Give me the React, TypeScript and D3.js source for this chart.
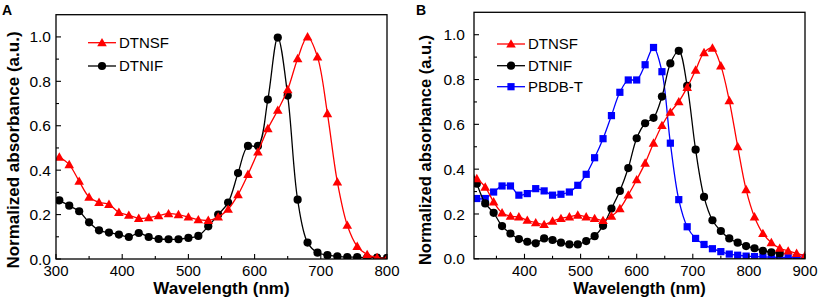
import React from "react";
import * as d3 from "d3";

// ---------- Data ----------
const wlA = [305, 320, 335, 350, 365, 380, 395, 410, 425, 440, 455, 470, 485, 500, 515, 530, 545, 560, 575, 590, 605, 620, 635, 650, 665, 680, 695, 710, 725, 740, 755, 770, 785, 800];
const dtnsfA = [0.459, 0.425, 0.35, 0.279, 0.255, 0.246, 0.21, 0.197, 0.183, 0.186, 0.195, 0.204, 0.2, 0.189, 0.177, 0.174, 0.189, 0.224, 0.29, 0.381, 0.482, 0.587, 0.67, 0.763, 0.902, 1.0, 0.91, 0.655, 0.347, 0.152, 0.057, 0.02, 0.006, 0.002];
const dtnifA = [0.264, 0.24, 0.215, 0.165, 0.129, 0.119, 0.11, 0.099, 0.117, 0.099, 0.09, 0.089, 0.089, 0.095, 0.104, 0.147, 0.2, 0.254, 0.387, 0.509, 0.509, 0.718, 0.997, 0.736, 0.267, 0.074, 0.029, 0.017, 0.012, 0.009, 0.008, 0.006, 0.006, 0.005];

const wlB = [315, 330, 345, 360, 375, 390, 405, 420, 435, 450, 465, 480, 495, 510, 525, 540, 555, 570, 585, 600, 615, 630, 645, 660, 675, 690, 705, 720, 735, 750, 765, 780, 795, 810, 825, 840, 855, 870, 885, 900];
const dtnsfB = [0.358, 0.32, 0.254, 0.205, 0.19, 0.187, 0.172, 0.161, 0.153, 0.168, 0.18, 0.187, 0.195, 0.187, 0.18, 0.171, 0.19, 0.224, 0.285, 0.353, 0.427, 0.516, 0.595, 0.654, 0.701, 0.765, 0.842, 0.92, 0.94, 0.861, 0.706, 0.501, 0.309, 0.187, 0.113, 0.072, 0.047, 0.035, 0.024, 0.014];
const wlBnif = [300, 315, 330, 345, 360, 375, 390, 405, 420, 435, 450, 465, 480, 495, 510, 525, 540, 555, 570, 585, 600, 615, 630, 645, 660, 675, 690, 705, 720, 735, 750, 765, 780, 795, 810, 825, 840, 855];
const dtnifB = [0.45, 0.335, 0.247, 0.205, 0.146, 0.113, 0.088, 0.076, 0.069, 0.091, 0.084, 0.072, 0.064, 0.064, 0.079, 0.101, 0.147, 0.224, 0.303, 0.405, 0.538, 0.605, 0.629, 0.724, 0.872, 0.928, 0.772, 0.487, 0.276, 0.172, 0.124, 0.091, 0.072, 0.057, 0.047, 0.036, 0.029, 0.024];
const pbdbtB = [0.269, 0.269, 0.298, 0.325, 0.325, 0.284, 0.291, 0.313, 0.303, 0.284, 0.288, 0.298, 0.328, 0.377, 0.451, 0.536, 0.639, 0.743, 0.798, 0.798, 0.866, 0.943, 0.835, 0.516, 0.264, 0.143, 0.091, 0.064, 0.045, 0.032, 0.021, 0.016, 0.012, 0.01, 0.008, 0.007, 0.006, 0.005, 0.004, 0.004];

const yTickLabels = ["0.0", "0.2", "0.4", "0.6", "0.8", "1.0"];
const xTicksA = [300, 400, 500, 600, 700, 800];
const xTicksB = [400, 500, 600, 700, 800, 900];

const RED = "#ff0000";
const BLACK = "#000000";
const BLUE = "#0000ff";
const FONT = "Liberation Sans, Arial, Helvetica, sans-serif";

type Series = { name: string; color: string; marker: string; xs: number[]; ys: number[] };

function Marker({ type, x, y, color }: { type: string; x: number; y: number; color: string }) {
  if (type === "tri") {
    const s = 4.8;
    return <path d={`M${x},${y - s}L${x + s},${y + s * 0.75}L${x - s},${y + s * 0.75}Z`} fill={color} />;
  }
  if (type === "sq") {
    return <rect x={x - 3.6} y={y - 3.6} width={7.2} height={7.2} fill={color} />;
  }
  return <circle cx={x} cy={y} r={4.1} fill={color} />;
}

function Panel(props: {
  id: string;
  letter: string;
  letterX: number;
  left: number;
  right: number;
  top: number;
  bottom: number;
  xDomain: [number, number];
  xTicks: number[];
  minorX: number[];
  series: Series[];
  legendX: number;
  legendY: number[];
  legendOrder: number[];
  yTitleX: number;
  labelGap: number;
  titleSize: number;
}) {
  const { left, right, top, bottom } = props;
  const x = d3.scaleLinear().domain(props.xDomain).range([left, right]);
  const y = d3.scaleLinear().domain([0, 1.1]).range([bottom, top]);
  const minorY = d3.range(0.1, 1.05, 0.2);
  const line = d3
    .line<[number, number]>()
    .x((d) => x(d[0]))
    .y((d) => y(d[1]))
    .curve(d3.curveCatmullRom.alpha(0.5));
  const clipId = `clip-${props.id}`;
  return (
    <g>
      <defs>
        <clipPath id={clipId}>
          <rect x={left} y={top} width={right - left} height={bottom - top} />
        </clipPath>
      </defs>
      <text x={props.letterX} y={15} fontFamily={FONT} fontWeight="bold" fontSize={14}>
        {props.letter}
      </text>
      {/* series */}
      <g clipPath={`url(#${clipId})`}>
        {props.series.map((s) => (
          <g key={s.name}>
            <path
              d={line(s.xs.map((v, i) => [v, s.ys[i]] as [number, number])) || ""}
              fill="none"
              stroke={s.color}
              strokeWidth={1.3}
            />
            {s.xs.map((v, i) => (
              <Marker key={i} type={s.marker} x={x(v)} y={y(s.ys[i])} color={s.color} />
            ))}
          </g>
        ))}
      </g>
      {/* frame */}
      <rect x={left} y={top} width={right - left} height={bottom - top} fill="none" stroke="#000" strokeWidth={1.3} />
      {/* x ticks */}
      {props.xTicks.map((t) => (
        <g key={t}>
          <line x1={x(t)} x2={x(t)} y1={bottom} y2={bottom - 5} stroke="#000" strokeWidth={1.1} />
          <text x={x(t)} y={276} textAnchor="middle" fontFamily={FONT} fontSize={15}>
            {t}
          </text>
        </g>
      ))}
      {props.minorX.map((t) => (
        <line key={t} x1={x(t)} x2={x(t)} y1={bottom} y2={bottom - 3} stroke="#000" strokeWidth={1.1} />
      ))}
      {/* y ticks */}
      {yTickLabels.map((lab) => {
        const v = parseFloat(lab);
        return (
          <g key={lab}>
            <line x1={left} x2={left + 5} y1={y(v)} y2={y(v)} stroke="#000" strokeWidth={1.1} />
            <text
              x={left - props.labelGap}
              y={y(v)}
              dy="0.36em"
              textAnchor="end"
              fontFamily={FONT}
              fontSize={15.5}
            >
              {lab}
            </text>
          </g>
        );
      })}
      {minorY.map((v) => (
        <line key={v} x1={left} x2={left + 3} y1={y(v)} y2={y(v)} stroke="#000" strokeWidth={1.1} />
      ))}
      {/* titles */}
      <text
        x={(left + right) / 2}
        y={294}
        textAnchor="middle"
        fontFamily={FONT}
        fontWeight="bold"
        fontSize={props.titleSize}
      >
        Wavelength (nm)
      </text>
      <text
        transform={`translate(${props.yTitleX},150) rotate(-90)`}
        textAnchor="middle"
        fontFamily={FONT}
        fontWeight="bold"
        fontSize={props.titleSize}
      >
        Normalized absorbance (a.u.)
      </text>
      {/* legend */}
      {props.legendOrder.map((si, k) => {
        const s = props.series[si];
        const ly = props.legendY[k];
        return (
          <g key={s.name}>
            <line x1={props.legendX} x2={props.legendX + 28} y1={ly} y2={ly} stroke={s.color} strokeWidth={1.3} />
            <Marker type={s.marker} x={props.legendX + 14} y={ly} color={s.color} />
            <text x={props.legendX + 31} y={ly} dy="0.36em" fontFamily={FONT} fontSize={15}>
              {s.name}
            </text>
          </g>
        );
      })}
    </g>
  );
}

export default function App() {
  const seriesA: Series[] = [
    { name: "DTNIF", color: BLACK, marker: "circ", xs: wlA, ys: dtnifA },
    { name: "DTNSF", color: RED, marker: "tri", xs: wlA, ys: dtnsfA },
  ];
  const seriesB: Series[] = [
    { name: "PBDB-T", color: BLUE, marker: "sq", xs: wlB, ys: pbdbtB },
    { name: "DTNIF", color: BLACK, marker: "circ", xs: wlBnif, ys: dtnifB },
    { name: "DTNSF", color: RED, marker: "tri", xs: wlB, ys: dtnsfB },
  ];
  return (
    <svg
      width={821}
      height={308}
      style={{ position: "absolute", left: 0, top: 0, background: "#fff" }}
    >
      <rect width={821} height={308} fill="#fff" />
      <Panel
        id="a"
        letter="A"
        letterX={2}
        left={56}
        right={387}
        top={14.7}
        bottom={259}
        xDomain={[300, 800]}
        xTicks={xTicksA}
        minorX={[350, 450, 550, 650, 750]}
        series={seriesA}
        legendX={88}
        legendY={[42.7, 66]}
        legendOrder={[1, 0]}
        yTitleX={19}
        labelGap={5}
        titleSize={17}
      />
      <Panel
        id="b"
        letter="B"
        letterX={416}
        left={474}
        right={805}
        top={12.3}
        bottom={258.8}
        xDomain={[310, 900]}
        xTicks={xTicksB}
        minorX={[350, 450, 550, 650, 750, 850]}
        series={seriesB}
        legendX={497}
        legendY={[44, 65.7, 86.7]}
        legendOrder={[2, 1, 0]}
        yTitleX={431}
        labelGap={9}
        titleSize={16.5}
      />
    </svg>
  );
}
